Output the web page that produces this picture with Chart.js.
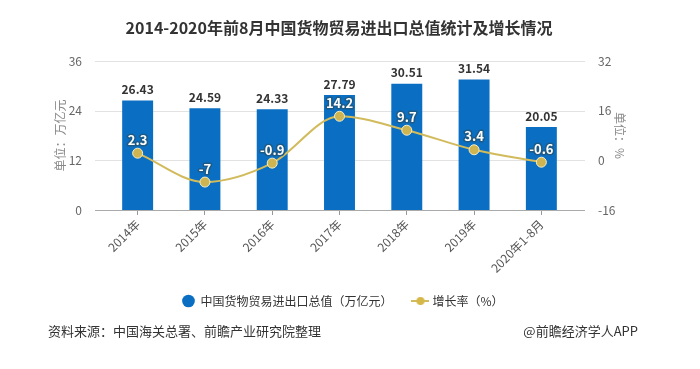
<!DOCTYPE html>
<html>
<head>
<meta charset="utf-8">
<script src="https://cdn.jsdelivr.net/npm/chart.js@4/dist/chart.umd.min.js"></script>
<style>
  html, body { margin: 0; padding: 0; background: #fff; }
  canvas { display: block; }
</style>
</head>
<body>
<canvas id="tradeChart" width="700" height="369"></canvas>
<script>
const years = ['2014年', '2015年', '2016年', '2017年', '2018年', '2019年', '2020年1-8月'];
const tradeValues = [26.43, 24.59, 24.33, 27.79, 30.51, 31.54, 20.05];
const growthRates = [2.3, -7, -0.9, 14.2, 9.7, 3.4, -0.6];
const leftTicks = [0, 12, 24, 36];
const rightTicks = [-16, 0, 16, 32];

const FONT = '"Noto Sans CJK SC", "Noto Sans", sans-serif';
Chart.defaults.font.family = FONT;

const BLUE = '#0a6fc2';
const GOLD = '#d2bb5c';

// small icon for the line legend: a short line with a dot on it
const lineIcon = document.createElement('canvas');
lineIcon.width = 18;
lineIcon.height = 12;
(() => {
    const c = lineIcon.getContext('2d');
    c.strokeStyle = GOLD;
    c.lineWidth = 2;
    c.beginPath();
    c.moveTo(0, 6);
    c.lineTo(18, 6);
    c.stroke();
    c.fillStyle = '#d6b848';
    c.beginPath();
    c.arc(9, 6, 4, 0, Math.PI * 2);
    c.fill();
})();

// grid lines a bit wider than the plot, plus title and source notes
const decorPlugin = {
    id: 'decor',
    beforeDatasetsDraw(chart) {
        const { ctx, chartArea, scales } = chart;
        ctx.save();
        leftTicks.forEach(v => {
            const y = Math.round(scales.y.getPixelForValue(v)) + 0.5;
            ctx.strokeStyle = v === 0 ? '#aaa' : '#e2e2e2';
            ctx.lineWidth = 1;
            ctx.beginPath();
            ctx.moveTo(chartArea.left - 9, y);
            ctx.lineTo(chartArea.right + 10, y);
            ctx.stroke();
        });
        ctx.restore();
    },
    afterDatasetsDraw(chart) {
        const { ctx } = chart;
        ctx.save();
        ctx.textAlign = 'center';
        ctx.textBaseline = 'bottom';

        chart.getDatasetMeta(0).data.forEach((bar, i) => {
            ctx.font = 'bold 12px ' + FONT;
            ctx.fillStyle = '#333';
            ctx.fillText(tradeValues[i].toFixed(2), bar.x, bar.y - 5);
        });

        chart.getDatasetMeta(1).data.forEach((pt, i) => {
            ctx.font = 'bold 13px ' + FONT;
            ctx.lineWidth = 3;
            ctx.lineJoin = 'round';
            ctx.strokeStyle = '#1d5a86';
            ctx.strokeText(String(growthRates[i]), pt.x, pt.y - 7);
            ctx.fillStyle = '#fff';
            ctx.fillText(String(growthRates[i]), pt.x, pt.y - 7);
        });
        ctx.restore();
    },
    afterDraw(chart) {
        const { ctx } = chart;
        ctx.save();
        ctx.fillStyle = '#333';
        ctx.textBaseline = 'middle';
        ctx.textAlign = 'center';
        ctx.font = 'bold 16px ' + FONT;
        ctx.fillText('2014-2020年前8月中国货物贸易进出口总值统计及增长情况', 339, 28);

        ctx.font = '13px ' + FONT;
        ctx.textAlign = 'left';
        ctx.fillText('资料来源：中国海关总署、前瞻产业研究院整理', 48, 331);
        ctx.textAlign = 'right';
        ctx.fillText('@前瞻经济学人APP', 638, 331);
        ctx.restore();
    }
};

new Chart(document.getElementById('tradeChart'), {
    data: {
        labels: years,
        datasets: [{
            type: 'bar',
            label: '中国货物贸易进出口总值（万亿元）',
            data: tradeValues,
            backgroundColor: BLUE,
            barPercentage: 0.46,
            categoryPercentage: 1,
            yAxisID: 'y',
            order: 1
        }, {
            type: 'line',
            label: '增长率（%）',
            data: growthRates,
            borderColor: GOLD,
            borderWidth: 2,
            backgroundColor: '#cfb552',
            pointBackgroundColor: '#cfb552',
            pointBorderColor: '#f4edc8',
            pointBorderWidth: 1,
            pointRadius: 5,
            cubicInterpolationMode: 'monotone',
            yAxisID: 'y1',
            order: 0
        }]
    },
    options: {
        responsive: false,
        animation: false,
        layout: {
            padding: { top: 61, bottom: 52, left: 0, right: 14 }
        },
        scales: {
            x: {
                offset: true,
                grid: { display: true, drawOnChartArea: false, offset: false, tickLength: 5, color: '#999' },
                border: { display: false },
                ticks: { minRotation: 45, maxRotation: 45, color: '#555', font: { size: 12 }, padding: 2 },
                afterFit(scale) { scale.height = 63; }
            },
            y: {
                position: 'left',
                min: 0,
                max: 36,
                afterBuildTicks(scale) { scale.ticks = leftTicks.map(v => ({ value: v })); },
                grid: { display: false },
                border: { display: false },
                ticks: { color: '#666', font: { size: 12 }, padding: 14 },
                title: { display: true, text: '单位：万亿元', color: '#888', font: { size: 12 }, padding: { top: 53 } },
                afterFit(scale) { scale.width = 104; }
            },
            y1: {
                position: 'right',
                min: -16,
                max: 32,
                afterBuildTicks(scale) { scale.ticks = rightTicks.map(v => ({ value: v })); },
                grid: { display: false },
                border: { display: false },
                ticks: { color: '#666', font: { size: 12 }, padding: 15 },
                title: { display: true, text: '单位：%', color: '#888', font: { size: 12 }, padding: { top: 59 } },
                afterFit(scale) { scale.width = 111; }
            }
        },
        plugins: {
            legend: {
                position: 'bottom',
                labels: {
                    usePointStyle: true,
                    boxHeight: 9,
                    padding: 22,
                    color: '#333',
                    font: { size: 12 },
                    generateLabels(chart) {
                        const items = Chart.defaults.plugins.legend.labels.generateLabels(chart);
                        items.sort((a, b) => a.datasetIndex - b.datasetIndex);
                        items.forEach(it => {
                            if (it.datasetIndex === 1) it.pointStyle = lineIcon;
                            else { it.pointStyle = 'circle'; it.lineWidth = 0; }
                        });
                        return items;
                    }
                }
            },
            tooltip: { enabled: false }
        }
    },
    plugins: [decorPlugin]
});
</script>
</body>
</html>
